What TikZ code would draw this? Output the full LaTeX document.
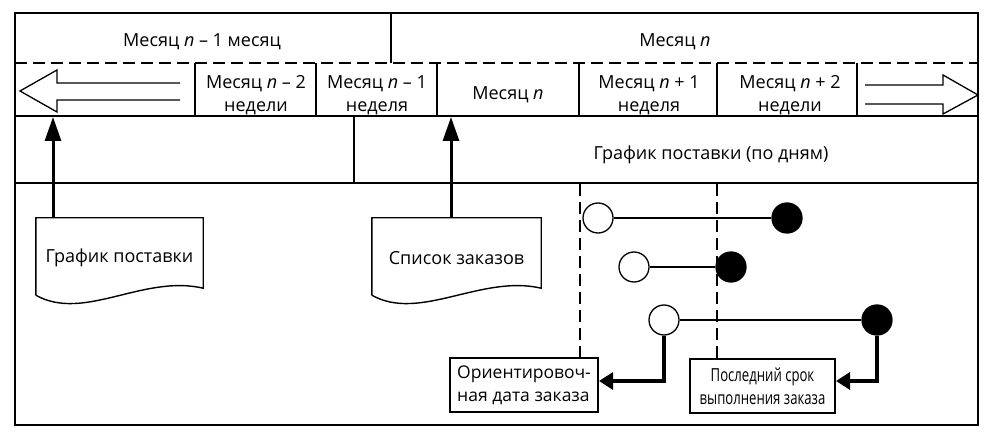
\documentclass[tikz,border=0pt]{standalone}
\usepackage{fontspec}
\setmainfont{Open Sans}
\newfontfamily\condfont[FakeStretch=0.73]{Open Sans}
\usetikzlibrary{arrows.meta,calc}
\begin{document}
\begin{tikzpicture}[x=1pt,y=-1pt,
  frameline/.style={line width=1.4pt},
  gridline/.style={line width=1.2pt},
  dashline/.style={line width=1.2pt, dash pattern=on 12pt off 6pt},
  lbl/.style={font=\fontsize{18}{21}\selectfont, inner sep=0pt, align=center},
  twolbl/.style={font=\fontsize{18}{23}\selectfont, inner sep=0pt, align=center},
  docnode/.style={minimum height=80pt, inner sep=0pt, font=\fontsize{18}{21}\selectfont},
  openc/.style={circle, draw, line width=1.3pt, fill=white, minimum size=30pt, inner sep=0pt},
  fillc/.style={circle, draw, fill=black, line width=1.3pt, minimum size=30pt, inner sep=0pt},
  tie/.style={line width=1.4pt},
  uparrow/.style={line width=3pt, -{Triangle[length=24pt,width=16pt]}},
  sidearrow/.style={line width=3.2pt, -{Triangle[length=14pt,width=17pt]}},
  hollow/.style={line width=1.3pt, line join=miter},
  infobox/.style={draw, line width=2pt, minimum height=54pt, inner sep=0pt},
]
\useasboundingbox (0,0) rectangle (991,446);

% outer frame and grid
\draw[frameline] (15,13) rectangle (978,425);
\draw[dashline] (15,63) -- (978,63);
\draw[gridline] (15,116) -- (978,116);
\draw[gridline] (15,183) -- (978,183);
\draw[gridline] (391,13) -- (391,63);
\foreach \xx in {195,316,437,579,717,857}
  \draw[gridline] (\xx,63) -- (\xx,116);
\draw[gridline] (354,116) -- (354,183);

% top row labels
\node[lbl] (m1) at (202,42) {Месяц \textit{n} – 1 месяц};
\node[lbl] (m2) at (675,42) {Месяц \textit{n}};

% second row labels
\node[twolbl] (w1) at (256,95) {Месяц \textit{n} – 2\\недели};
\node[twolbl] (w2) at (377,95) {Месяц \textit{n} – 1\\неделя};
\node[lbl] (w3) at (508,95) {Месяц \textit{n}};
\node[twolbl] (w4) at (649,95) {Месяц \textit{n} + 1\\неделя};
\node[twolbl] (w5) at (790,95) {Месяц \textit{n} + 2\\недели};

% hollow arrows
\draw[hollow] (180,83) -- (57,83) -- (57,70) -- (20,91) -- (57,112) -- (57,100) -- (180,100);
\draw[hollow] (865,85) -- (943,85) -- (943,75) -- (978,95) -- (943,114) -- (943,104) -- (865,104);

% third row label
\node[lbl] (gd) at (711,155) {График поставки (по дням)};

% documents
\node[docnode, minimum width=167pt] (d1) at (119.5,258) {График поставки};
\node[docnode, minimum width=169pt] (d2) at (456.5,258) {Список заказов};
\foreach \d in {d1,d2}
  \draw[line width=1.4pt] ($(\d.south west)+(0,-3)$) -- (\d.north west) -- (\d.north east)
    -- ($(\d.south east)+(0,-10)$)
    .. controls ($(\d.south east)+(-60,-24)$) and ($(\d.south west)+(48,24)$) .. ($(\d.south west)+(0,-3)$);

% upward arrows
\coordinate (a1) at (53,117);
\coordinate (a2) at (451,117);
\draw[uparrow] (d1.north west -| a1) -- (a1);
\draw[uparrow] (d2.north west -| a2) -- (a2);

% info boxes
\node[infobox, minimum width=148pt, font=\fontsize{17.5}{23}\selectfont, align=left] (b1) at (524,385)
  {Ориентировоч-\\ная дата заказа};
\node[infobox, minimum width=145pt, font=\condfont\fontsize{18}{23}\selectfont, align=center] (b2) at (762.5,386)
  {Последний срок\\выполнения заказа};

% dashed verticals
\draw[dashline] (580,184) -- (b1.north -| 580,0);
\draw[dashline] (717,184) -- (b2.north -| 717,0);

% circles
\node[openc] (o1) at (598,218) {};
\node[fillc] (f1) at (787,218) {};
\node[openc] (o2) at (634,267) {};
\node[fillc] (f2) at (731,267) {};
\node[openc] (o3) at (664,320) {};
\node[fillc] (f3) at (877,320) {};
\draw[tie] (o1) -- (f1);
\draw[tie] (o2) -- (f2);
\draw[tie] (o3) -- (f3);

% side arrows
\draw[sidearrow] (o3.south) |- ($(b1.east)+(0,-4)$);
\draw[sidearrow] (f3.south) |- ($(b2.east)+(0,-5)$);
\end{tikzpicture}
\end{document}
